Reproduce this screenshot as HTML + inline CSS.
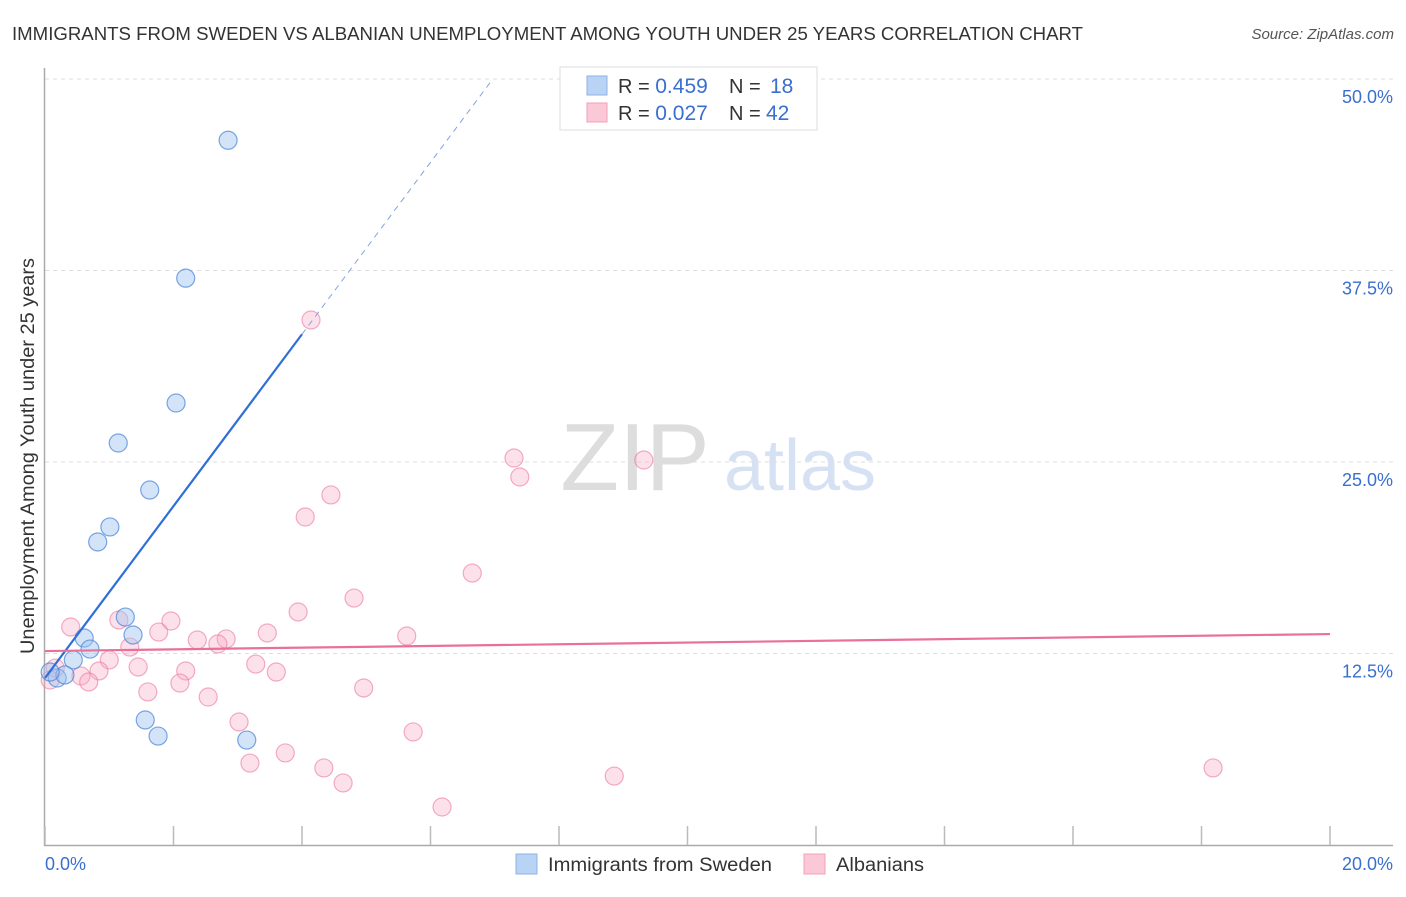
<!DOCTYPE html>
<html><head><meta charset="utf-8"><style>
body{margin:0;background:#fff;font-family:"Liberation Sans",sans-serif;}
svg text{font-family:"Liberation Sans",sans-serif;}
</style></head><body>
<svg id="chart" width="1406" height="892" xmlns="http://www.w3.org/2000/svg">
<text x="12" y="40" font-size="18" fill="#333" textLength="1071" lengthAdjust="spacingAndGlyphs">IMMIGRANTS FROM SWEDEN VS ALBANIAN UNEMPLOYMENT AMONG YOUTH UNDER 25 YEARS CORRELATION CHART</text>
<text x="1394" y="39" font-size="15" fill="#555" font-style="italic" text-anchor="end">Source: ZipAtlas.com</text>
<text x="635" y="490" font-size="96" fill="#ddd" font-family="Liberation Serif" text-anchor="middle">ZIP</text>
<text x="800" y="490" font-size="72" fill="#d6e2f3" text-anchor="middle">atlas</text>
<g id="grid"></g>
<g id="axes"></g>
<g id="points"></g>
<g id="trends"></g>
<text transform="translate(34,456) rotate(-90)" font-size="19" fill="#333" text-anchor="middle" textLength="396" lengthAdjust="spacingAndGlyphs">Unemployment Among Youth under 25 years</text>
<text x="45" y="870" font-size="18" fill="#3a6fd0">0.0%</text>
<text x="1393" y="870" font-size="18" fill="#3a6fd0" text-anchor="end">20.0%</text>
<g>
<rect x="560" y="67" width="257" height="63" fill="#fff" stroke="#ddd"/>
<rect x="587" y="76" width="20" height="19" fill="#b9d3f5" stroke="#8fb2e6"/>
<rect x="587" y="103" width="20" height="19" fill="#fbc8d8" stroke="#f0a0b8"/>
<text x="618" y="93" font-size="20" fill="#333">R = <tspan fill="#3a6fd0" font-size="21">0.459</tspan><tspan x="729">N = </tspan><tspan x="770" fill="#3a6fd0" font-size="21">18</tspan></text>
<text x="618" y="120" font-size="20" fill="#333">R = <tspan fill="#3a6fd0" font-size="21">0.027</tspan><tspan x="729">N = </tspan><tspan x="766" fill="#3a6fd0" font-size="21">42</tspan></text>
</g>
<g>
<rect x="516" y="854" width="21" height="20" fill="#b9d3f5" stroke="#8fb2e6"/>
<text x="548" y="871" font-size="19" fill="#333" textLength="224" lengthAdjust="spacingAndGlyphs">Immigrants from Sweden</text>
<rect x="804" y="854" width="21" height="20" fill="#fbc8d8" stroke="#f0a0b8"/>
<text x="836" y="871" font-size="19" fill="#333" textLength="88" lengthAdjust="spacingAndGlyphs">Albanians</text>
</g>
</svg>
<script>
const yTicks=[12.5,25,37.5,50];
const yTickLabels=["12.5%","25.0%","37.5%","50.0%"];
const xTicks=[0,2,4,6,8,10,12,14,16,18,20];
const swedenX=[2.85,2.19,2.04,1.14,1.63,1.01,0.82,1.25,1.37,0.61,0.70,0.44,0.19,0.31,0.08,1.56,1.76,3.14];
const swedenY=[46.0,37.0,28.85,26.24,23.17,20.76,19.78,14.88,13.71,13.51,12.79,12.08,10.90,11.10,11.29,8.16,7.11,6.85];
const albX=[4.14,7.30,9.32,7.39,4.45,4.05,6.65,4.81,3.94,0.40,1.96,1.15,5.63,3.46,1.77,2.82,2.37,2.69,1.32,1.00,0.84,1.45,2.19,3.28,3.60,0.56,0.68,2.10,4.96,1.60,2.54,3.02,5.73,3.74,3.19,4.34,4.64,8.86,18.18,6.18,0.16,0.08];
const albY=[34.27,25.26,25.13,24.02,22.85,21.41,17.75,16.12,15.21,14.23,14.62,14.69,13.64,13.84,13.90,13.45,13.38,13.12,12.92,12.08,11.36,11.62,11.36,11.81,11.29,11.03,10.64,10.57,10.25,9.99,9.66,8.03,7.38,6.01,5.35,5.03,4.05,4.50,5.03,2.48,11.55,10.77];
const swedenTrend=[10.9,5.61];
const albTrend=[12.66,0.0555];
const NS="http://www.w3.org/2000/svg";
const X=v=>45+v/20*1285;
const Y=v=>845-v/50*766;
function mk(p,tag,a){const e=document.createElementNS(NS,tag);for(const k in a)e.setAttribute(k,a[k]);document.getElementById(p).appendChild(e);return e;}
yTicks.forEach((t,i)=>{
 const l=mk('grid','line',{x1:45,x2:1393,y1:Y(t),y2:Y(t),stroke:'#ddd','stroke-dasharray':'4,4'});
 
 
 const tx=mk('grid','text',{x:1393,y:Y(t)+24,'font-size':18,fill:'#3a6fd0','text-anchor':'end'});
 tx.textContent=yTickLabels[i];
 
 
});
const ax=mk('axes','path',{d:'M44.5 68V845.5H1393',stroke:'#aaa',fill:'none','stroke-width':1.5});


xTicks.forEach(t=>{
 const l=mk('axes','line',{x1:X(t),x2:X(t),y1:826,y2:845,stroke:'#bbb','stroke-width':1.5});
 
 
});
albX.forEach((x,i)=>{
 const c=mk('points','circle',{cx:X(x),cy:Y(albY[i]),r:9,fill:'rgba(248,170,195,0.35)',stroke:'rgba(235,120,155,0.6)','stroke-width':1.2});
 
 
});
swedenX.forEach((x,i)=>{
 const c=mk('points','circle',{cx:X(x),cy:Y(swedenY[i]),r:9,fill:'rgba(160,195,240,0.45)',stroke:'rgba(70,130,215,0.7)','stroke-width':1.2});
 
 
});
const sv=x=>swedenTrend[0]+swedenTrend[1]*x;
const xEnd=4.0, xTop=(50-swedenTrend[0])/swedenTrend[1];
const b1=mk('trends','line',{x1:X(0),y1:Y(sv(0)),x2:X(xEnd),y2:Y(sv(xEnd)),stroke:'#2f6fd6','stroke-width':2.2});


const b2=mk('trends','line',{x1:X(xEnd),y1:Y(sv(xEnd)),x2:X(xTop),y2:Y(50),stroke:'#7fa5e0','stroke-width':1,'stroke-dasharray':'6,5'});


const av=x=>albTrend[0]+albTrend[1]*x;
const p1=mk('trends','line',{x1:X(0),y1:Y(av(0)),x2:X(20),y2:Y(av(20)),stroke:'#e8709a','stroke-width':2.2});


</script>
</body></html>
